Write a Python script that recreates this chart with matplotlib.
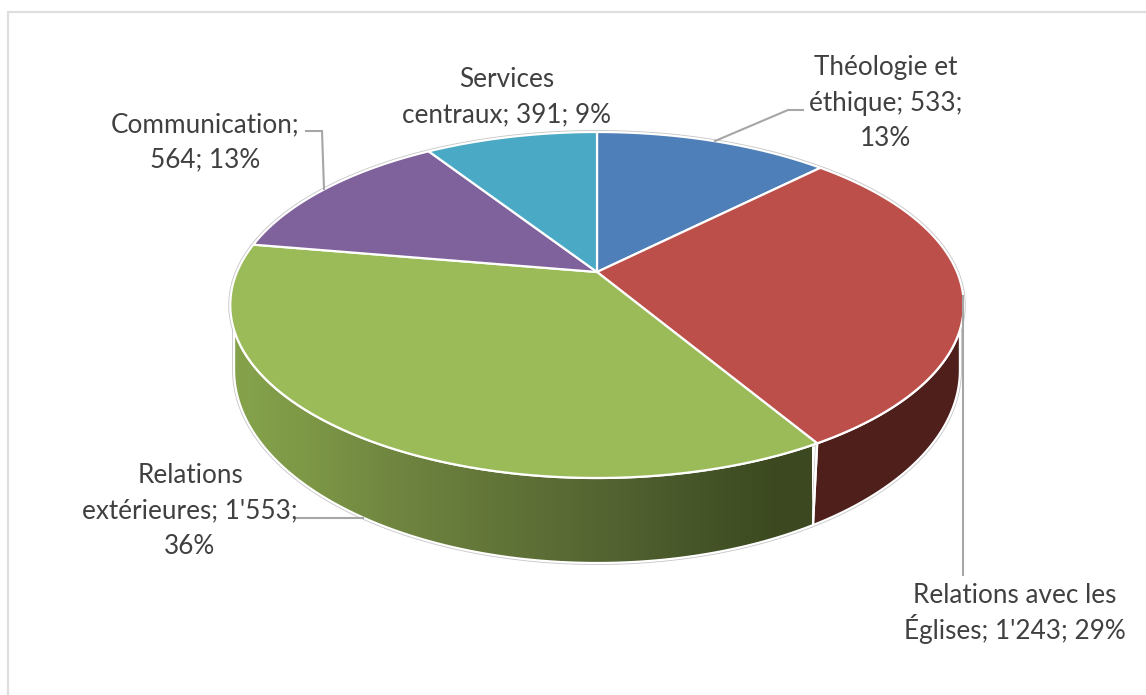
import numpy as np
import matplotlib
matplotlib.use("Agg")
import matplotlib.pyplot as plt
from matplotlib.colors import LinearSegmentedColormap
from matplotlib.patches import PathPatch, Polygon
from matplotlib.path import Path

# Budget by department
categories = ["Théologie et éthique", "Relations avec les Églises",
              "Relations extérieures", "Communication", "Services centraux"]
values = [533, 1243, 1553, 564, 391]
top_colors = ["#4f7fb9", "#bd4f4b", "#9bbb59", "#7f619c", "#4aa9c4"]
label_lines = [["Théologie et", "éthique; 533;", "13%"],
               ["Relations avec les", "Églises; 1'243; 29%"],
               ["Relations", "extérieures; 1'553;", "36%"],
               ["Communication;", "564; 13%"],
               ["Services", "centraux; 391; 9%"]]
# Horizontal centre and first baseline of each label
label_anchors = [(886, 75), (1015, 603), (190, 483), (205, 132), (507, 87)]
LINE_STEP = 35.5
leader_lines = [[(715, 141), (788, 110), (803, 110)],
                [(962.5, 296), (962.5, 575)],
                [(297, 518), (363, 518)],
                [(306, 131), (322, 131), (324, 189)]]

# Perspective parameters of the top and bottom faces of the disc
TOP = dict(cx=597, cy=272, a=360, b=166.7, k=0.1907)
BOTTOM = dict(cx=597, cy=335.3, a=357, b=186.7, k=0.18)
# Angles where the visible rim leaves the top face and meets the bottom face
RIM_TOP_RIGHT, RIM_BOTTOM_RIGHT = 109.0, 100.4
RIM_TOP_LEFT, RIM_BOTTOM_LEFT = 251.0, 259.6

# Horizontal shading of the green rim: figure x position and colour
rim_x = [232, 300, 400, 500, 600, 700, 780, 812]
rim_colors = ["#86a44c", "#7f9a47", "#6f8540", "#627538",
              "#556532", "#465528", "#3c4920", "#3c4820"]


def project(theta_deg, face):
    """Map angles, clockwise from 12 o'clock on the unit disc, to the figure plane."""
    t = np.radians(theta_deg)
    x, y = np.sin(t), np.cos(t)
    w = 1 + face["k"] * y
    return np.column_stack((face["cx"] + face["a"] * x / w,
                            face["cy"] - face["b"] * y / w))


def arc(start, stop, face, n=200):
    return project(np.linspace(start, stop, n), face)


fig = plt.figure(figsize=(11.46, 6.95), dpi=100)
ax = fig.add_axes([0, 0, 1, 1])
ax.set_xlim(0, 1146)
ax.set_ylim(695, 0)
ax.axis("off")

# Chart frame: only the top and left edges fall inside the canvas
ax.plot([7.5, 7.5, 1146], [695, 11.5, 11.5], color="#dedede", lw=1.6, zorder=1,
        solid_joinstyle="miter")

edges = np.concatenate(([0], np.cumsum(values))) / sum(values) * 360

red_side = np.vstack((arc(RIM_TOP_RIGHT, edges[2], TOP),
                      arc(edges[2], RIM_BOTTOM_RIGHT, BOTTOM)))
green_side = np.vstack((arc(edges[2], RIM_TOP_LEFT, TOP),
                        arc(RIM_BOTTOM_LEFT, edges[2], BOTTOM)))

# Thin grey outline behind the disc
ax.add_patch(Polygon(arc(0, 360, TOP, 500), closed=True, facecolor="white",
                     edgecolor="#c6c6c6", lw=2.8, zorder=2))
for side in (red_side, green_side):
    ax.add_patch(Polygon(side, closed=True, facecolor="white",
                         edgecolor="#c6c6c6", lw=2.8, zorder=2))

# Rim of the red slice
ax.add_patch(Polygon(red_side, closed=True, facecolor="#4f1f1c",
                     edgecolor="white", lw=1.6, zorder=3, joinstyle="round"))

# Rim of the green slice, shaded from left to right
stops = (np.array(rim_x) - rim_x[0]) / (rim_x[-1] - rim_x[0])
shade = LinearSegmentedColormap.from_list("rim", list(zip(stops, rim_colors)))
gradient = ax.imshow(np.linspace(0, 1, 512).reshape(1, -1), cmap=shade,
                     extent=(rim_x[0] - 6, rim_x[-1], 570, 300), aspect="auto", zorder=3.1)
gradient.set_clip_path(Path(green_side), ax.transData)
ax.add_patch(Polygon(green_side, closed=True, facecolor="none",
                     edgecolor="white", lw=1.6, zorder=3.2, joinstyle="round"))
ax.set_xlim(0, 1146)
ax.set_ylim(695, 0)

# Top face slices
centre = (TOP["cx"], TOP["cy"])
for start, stop, color in zip(edges[:-1], edges[1:], top_colors):
    pts = np.vstack((centre, arc(start, stop, TOP), centre))
    ax.add_patch(PathPatch(Path(pts), facecolor=color, edgecolor="white",
                           lw=1.6, zorder=4, joinstyle="round"))

# Leader lines and data labels
for line in leader_lines:
    xs, ys = zip(*line)
    ax.plot(xs, ys, color="#a6a6a6", lw=1.5, zorder=5, solid_joinstyle="miter")

for lines, (x, y) in zip(label_lines, label_anchors):
    for i, line in enumerate(lines):
        ax.text(x, y + i * LINE_STEP, line, ha="center", va="baseline", family="Lato",
                fontsize=18.8, color="#404040", zorder=6)

fig.savefig("out.png", dpi=100)
